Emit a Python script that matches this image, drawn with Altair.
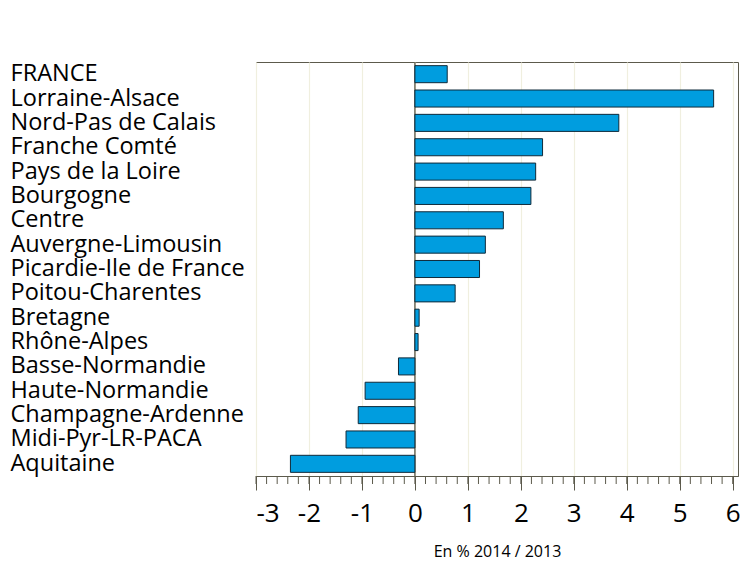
import altair as alt
import pandas as pd

regions = ["FRANCE", "Lorraine-Alsace", "Nord-Pas de Calais", "Franche Comté",
           "Pays de la Loire", "Bourgogne", "Centre", "Auvergne-Limousin",
           "Picardie-Ile de France", "Poitou-Charentes", "Bretagne", "Rhône-Alpes",
           "Basse-Normandie", "Haute-Normandie", "Champagne-Ardenne",
           "Midi-Pyr-LR-PACA", "Aquitaine"]
values = [0.61, 5.64, 3.85, 2.41, 2.28, 2.19, 1.67, 1.33, 1.22, 0.76,
          0.08, 0.06, -0.31, -0.94, -1.07, -1.30, -2.35]
major_ticks = [-3, -2, -1, 0, 1, 2, 3, 4, 5, 6]
minor_ticks = [round(-3 + 0.2 * i, 1) for i in range(46)]
x_domain = [-3, 6.1]
axis_title = "En % 2014 / 2013"

FONT = "Open Sans"
W, H = 482, 414

df = pd.DataFrame({"region": regions, "value": values})
df_minor = pd.DataFrame({"t": minor_ticks})
df_zero = pd.DataFrame({"z": [0]})

xscale = alt.Scale(domain=x_domain, nice=False, zero=False)

bars = alt.Chart(df).mark_bar(
    color="#009ddf", stroke="#0f2a3a", strokeWidth=1
).encode(
    x=alt.X("value:Q", scale=xscale,
            axis=alt.Axis(values=major_ticks, title=axis_title,
                          labelExpr="'' + datum.value",
                          grid=True, gridColor="#f0efdf", gridWidth=1.2,
                          tickSize=14, tickColor="#5c5a4c", domainColor="#5c5a4c",
                          labelFontSize=26, labelFont=FONT, labelColor="#000",
                          labelPadding=10, titleFont=FONT, titleFontSize=16,
                          titleFontWeight="normal", titleColor="#000",
                          titlePadding=17)),
    x2=alt.datum(0),
    y=alt.Y("region:N", sort=regions,
            scale=alt.Scale(paddingInner=0.3, paddingOuter=0.15),
            axis=alt.Axis(title=None, ticks=False, domain=False,
                          labelAlign="left", labelPadding=246, labelLimit=400,
                          labelFont=FONT, labelFontSize=23.5, labelColor="#000")),
)

zero = alt.Chart(df_zero).mark_rule(color="#6e6c5c", strokeWidth=1.5).encode(
    x=alt.X("z:Q", scale=xscale)
)

minor = alt.Chart(df_minor).mark_rule(color="#5c5a4c", strokeWidth=1).encode(
    x=alt.X("t:Q", scale=xscale),
    y=alt.value(H),
    y2=alt.value(H + 8),
)

chart = alt.layer(zero, bars, minor).properties(
    width=W, height=H,
    autosize=alt.AutoSizeParams(type="none"),
    padding={"left": 248, "top": 54, "right": 4, "bottom": 84},
).configure_view(
    stroke="#5c5a4c", strokeWidth=1
)

chart.save("out.html", embed_options={"renderer": "svg", "actions": False})
